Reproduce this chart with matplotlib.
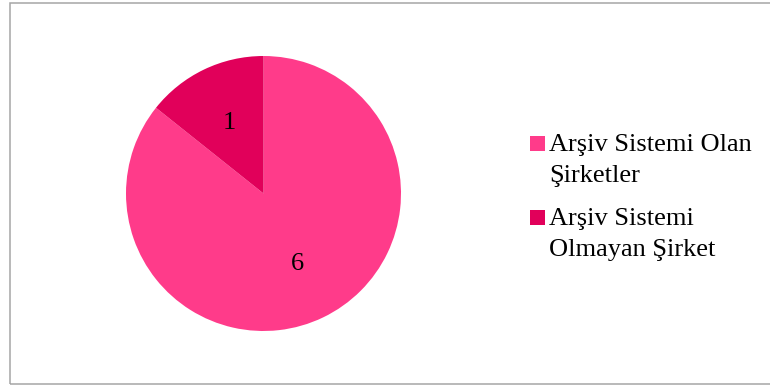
import matplotlib
matplotlib.use("Agg")
import matplotlib.pyplot as plt
from matplotlib.patches import Rectangle

# Şirketlerin arşiv sistemi durumu
categories = ["Arşiv Sistemi Olan\nŞirketler", "Arşiv Sistemi\nOlmayan Şirket"]
counts = [6, 1]
colors = ["#FF3B8A", "#E1005A"]

plt.rcParams["font.family"] = ["Liberation Serif", "DejaVu Serif"]

W, H = 770, 385
fig = plt.figure(figsize=(W / 100, H / 100), dpi=100)

# chart frame (open on the right side)
fig.patches.append(Rectangle((9.5 / W, 1.5 / H), 1.2, (H - 4.5) / H,
                             transform=fig.transFigure, fill=False,
                             edgecolor="#A6A6A6", linewidth=1.1))

r_px = 137.5
cx, cy = 263.5, H - 193.5
ax = fig.add_axes([(cx - r_px) / W, (cy - r_px) / H, 2 * r_px / W, 2 * r_px / H])

total = sum(counts)
wedges, texts, autotexts = ax.pie(
    counts, colors=colors, startangle=90, counterclock=False,
    autopct=lambda p: f"{round(p * total / 100)}", pctdistance=0.57,
    textprops=dict(fontsize=19, color="black"),
    wedgeprops=dict(linewidth=0))
ax.set_xlim(-1, 1)
ax.set_ylim(-1, 1)
ax.set_aspect("equal")

# legend: square key + wrapped label for each slice
key_x, key_size = 530, 14.5
text_x = 549
line_gap = 31
entry_top_baseline = [151, 225]
for label, color, base in zip(categories, colors, entry_top_baseline):
    fig.patches.append(Rectangle((key_x / W, (H - base + 0.5) / H),
                                 key_size / W, key_size / H,
                                 transform=fig.transFigure,
                                 facecolor=color, edgecolor="none"))
    for i, line in enumerate(label.split("\n")):
        fig.text(text_x / W, (H - base - i * line_gap) / H, line,
                 fontsize=19, ha="left", va="baseline", color="black")

fig.savefig("out.png", dpi=100)
